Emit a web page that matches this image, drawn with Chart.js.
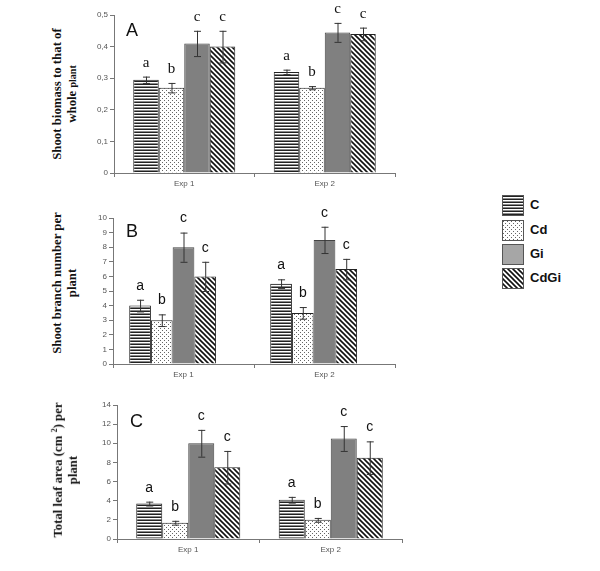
<!DOCTYPE html>
<html>
<head>
<meta charset="UTF-8">
<script src="https://cdn.jsdelivr.net/npm/chart.js"></script>
<style>
  * { margin:0; padding:0; box-sizing:border-box; }
  body { width:600px; height:571px; background:#fff; position:relative; overflow:hidden; font-family:'Liberation Sans', Arial, sans-serif; }
  canvas.chart { position:absolute; left:80px; }
  .ytitle { position:absolute; width:170px; text-align:center; font-family:'Liberation Serif','Times New Roman',serif; font-weight:bold; font-size:12.8px; line-height:15px; color:#111; transform:rotate(-90deg); transform-origin:center center; }
  .ytitle small { font-size:10px; }
  .panel { position:absolute; font-size:18px; color:#111; }
  .leg { position:absolute; left:502px; }
  .leg canvas { position:absolute; left:0; top:0; border:1px solid #555; }
  .leg span { position:absolute; left:28px; top:2px; font-weight:bold; font-size:13px; color:#111; }
</style>
</head>
<body>
<canvas class="chart" id="chartA" width="340" height="195" style="top:0"></canvas>
<canvas class="chart" id="chartB" width="340" height="186" style="top:200px"></canvas>
<canvas class="chart" id="chartC" width="340" height="176" style="top:385px"></canvas>

<div class="ytitle" style="left:-20px; top:79px;">Shoot biomass to that of<br>whole <small>plant</small></div>
<div class="ytitle" style="left:-20px; top:268px;">Shoot branch number per<br>plant</div>
<div class="ytitle" style="left:-21px; top:453px;">Total leaf area (cm <sup style="font-size:8px">2</sup>) per<br>plant</div>

<div class="panel" style="left:126px; top:20px;">A</div>
<div class="panel" style="left:126px; top:221px;">B</div>
<div class="panel" style="left:130px; top:411px;">C</div>

<div id="legend"></div>

<script>
const groups = ['Exp 1', 'Exp 2'];
const treatments = ['C', 'Cd', 'Gi', 'CdGi'];
const letters = ['a', 'b', 'c', 'c'];

// [treatment][experiment]
const ratioMean = [[0.295, 0.32], [0.27, 0.27], [0.41, 0.445], [0.40, 0.44]];
const ratioErr  = [[0.01, 0.007], [0.015, 0.005], [0.04, 0.03], [0.05, 0.02]];
const branchMean = [[4, 5.5], [3, 3.5], [8, 8.5], [6, 6.5]];
const branchErr  = [[0.4, 0.3], [0.4, 0.4], [1, 0.9], [1, 0.7]];
const areaMean = [[3.7, 4.1], [1.7, 2.0], [10, 10.5], [7.5, 8.5]];
const areaErr  = [[0.2, 0.3], [0.2, 0.2], [1.4, 1.3], [1.7, 1.7]];

function makePattern(kind) {
  const c = document.createElement('canvas');
  const g = c.getContext('2d');
  if (kind === 'C') {
    c.width = 4; c.height = 3;
    g.fillStyle = '#fff'; g.fillRect(0, 0, 4, 3);
    g.fillStyle = '#222'; g.fillRect(0, 0, 4, 1);
    g.fillStyle = '#8a8a8a'; g.fillRect(0, 2, 4, 1);
  } else if (kind === 'Cd') {
    c.width = 4; c.height = 4;
    g.fillStyle = '#fff'; g.fillRect(0, 0, 4, 4);
    g.fillStyle = '#666';
    g.fillRect(0, 0, 1, 1); g.fillRect(2, 2, 1, 1);
  } else if (kind === 'Gi') {
    return '#808080';
  } else {
    c.width = 5; c.height = 5;
    g.fillStyle = '#fff'; g.fillRect(0, 0, 5, 5);
    g.strokeStyle = '#111'; g.lineWidth = 1.6;
    g.beginPath();
    g.moveTo(-1, -1); g.lineTo(6, 6);
    g.moveTo(-1, 4); g.lineTo(1, 6);
    g.moveTo(4, -1); g.lineTo(6, 1);
    g.stroke();
  }
  return g.createPattern(c, 'repeat');
}
const fills = treatments.map(makePattern);

const errorBars = {
  id: 'errorBars',
  afterDatasetsDraw(chart, args, opts) {
    const ctx = chart.ctx;
    const y = chart.scales.y;
    chart.data.datasets.forEach((ds, i) => {
      if (!ds.errors) return;
      const meta = chart.getDatasetMeta(i);
      meta.data.forEach((bar, j) => {
        const v = ds.data[j], e = ds.errors[j];
        const top = y.getPixelForValue(v + e), bot = y.getPixelForValue(v - e);
        ctx.save();
        ctx.strokeStyle = '#333'; ctx.lineWidth = 1;
        ctx.beginPath();
        ctx.moveTo(bar.x + 0.5, top); ctx.lineTo(bar.x + 0.5, bot);
        ctx.moveTo(bar.x - 3, top + 0.5); ctx.lineTo(bar.x + 4, top + 0.5);
        ctx.moveTo(bar.x - 3, bot + 0.5); ctx.lineTo(bar.x + 4, bot + 0.5);
        ctx.stroke();
        ctx.fillStyle = '#111';
        ctx.font = opts.font;
        ctx.textAlign = 'center'; ctx.textBaseline = 'middle';
        ctx.fillText(ds.letter, bar.x, top - 14);
        ctx.restore();
      });
    });
  }
};

function buildChart(id, means, errs, yMax, step, yWidth, pad, fmt, letterFont, extraSeries, catPct) {
  const datasets = treatments.map((t, i) => ({
    label: t,
    data: means[i],
    errors: errs[i],
    letter: letters[i],
    backgroundColor: fills[i],
    borderColor: i === 2 ? '#444' : '#222',
    borderWidth: 1
  }));
  if (extraSeries) datasets.push({ label: '', data: [null, null], backgroundColor: 'transparent' });
  return new Chart(document.getElementById(id), {
    type: 'bar',
    data: { labels: groups, datasets },
    options: {
      responsive: false,
      animation: false,
      layout: { padding: pad },
      datasets: { bar: { categoryPercentage: catPct, barPercentage: 1 } },
      plugins: {
        legend: { display: false },
        tooltip: { enabled: false },
        errorBars: { font: letterFont }
      },
      scales: {
        x: {
          afterFit(s) { s.height = 22; },
          grid: { drawOnChartArea: false, drawTicks: true, tickLength: 4, color: '#777', offset: true },
          border: { color: '#777' },
          ticks: { color: '#555', font: { family: 'Liberation Sans', size: 8 }, padding: 2 }
        },
        y: {
          min: 0, max: yMax,
          afterFit(s) { s.width = yWidth; },
          grid: { drawOnChartArea: false, drawTicks: true, tickLength: 4, color: '#777' },
          border: { color: '#777' },
          ticks: { stepSize: step, color: '#555', font: { family: 'Liberation Sans', size: 8 }, padding: 2, callback: fmt }
        }
      }
    },
    plugins: [errorBars]
  });
}

const commaFmt = v => v === 0 ? '0' : v.toFixed(1).replace('.', ',');
const intFmt = v => String(v);

buildChart('chartA', ratioMean, ratioErr, 0.5, 0.1, 34, { top: 15, right: 25, left: 0, bottom: 0 },
  commaFmt, '15px "Liberation Serif", serif', false, 0.726);
buildChart('chartB', branchMean, branchErr, 10, 1, 33, { top: 18, right: 25, left: 0, bottom: 0 },
  intFmt, '14px "Liberation Sans", Arial, sans-serif', true, 0.77);
buildChart('chartC', areaMean, areaErr, 14, 2, 37, { top: 20, right: 18, left: 0, bottom: 0 },
  intFmt, '14px "Liberation Sans", Arial, sans-serif', false, 0.73);

// legend
const legTops = [195, 220, 244, 268];
const legend = document.getElementById('legend');
treatments.forEach((t, i) => {
  const box = document.createElement('div');
  box.className = 'leg';
  box.style.top = legTops[i] + 'px';
  const c = document.createElement('canvas');
  c.width = 20; c.height = 19;
  const g = c.getContext('2d');
  g.fillStyle = i === 2 ? '#a6a6a6' : fills[i];
  g.fillRect(0, 0, 20, 19);
  const s = document.createElement('span');
  s.textContent = t;
  box.appendChild(c); box.appendChild(s);
  legend.appendChild(box);
});
</script>
</body>
</html>
